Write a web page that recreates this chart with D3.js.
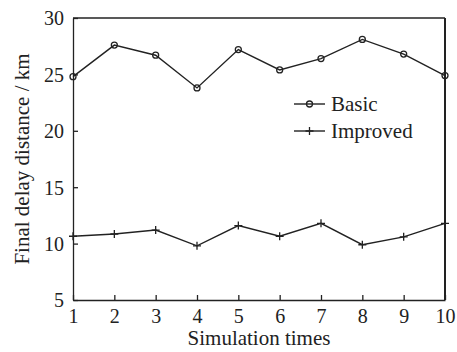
<!DOCTYPE html>
<html>
<head>
<meta charset="utf-8">
<script src="https://cdn.jsdelivr.net/npm/d3@7"></script>
<style>
  body { margin: 0; background: #fff; }
  svg text { font-family: "Liberation Serif", "Times New Roman", Times, "DejaVu Serif", serif; fill: #222; }
</style>
</head>
<body>
<div id="chart"></div>
<script>
const runs = [1, 2, 3, 4, 5, 6, 7, 8, 9, 10];
const basic = [24.8, 27.6, 26.7, 23.8, 27.2, 25.4, 26.4, 28.1, 26.8, 24.9];
const improved = [10.65, 10.85, 11.2, 9.8, 11.6, 10.65, 11.8, 9.9, 10.6, 11.8];
const yTicks = [5, 10, 15, 20, 25, 30];

const width = 457, height = 352;
const margin = { top: 18, right: 12, bottom: 52, left: 73 };
const serif = "'Liberation Serif', 'Times New Roman', Times, 'DejaVu Serif', serif";

const svg = d3.select("#chart").append("svg")
    .attr("width", width)
    .attr("height", height);

const x = d3.scaleLinear().domain([1, 10]).range([margin.left, width - margin.right]);
const y = d3.scaleLinear().domain([5, 30]).range([height - margin.bottom, margin.top]);

// frame
svg.append("line")
    .attr("x1", x(1)).attr("x2", x(10))
    .attr("y1", y(30)).attr("y2", y(30))
    .attr("stroke", "#222").attr("stroke-width", 1.3);
svg.append("line")
    .attr("x1", x(10)).attr("x2", x(10))
    .attr("y1", y(30)).attr("y2", y(5))
    .attr("stroke", "#222").attr("stroke-width", 2);

const xAxis = svg.append("g")
    .attr("transform", `translate(0,${y(5)})`)
    .call(d3.axisBottom(x).tickValues(runs).tickFormat(d3.format("d")).tickSizeInner(-5).tickSizeOuter(0).tickPadding(9));

const yAxis = svg.append("g")
    .attr("transform", `translate(${x(1)},0)`)
    .call(d3.axisLeft(y).tickValues(yTicks).tickSizeInner(-5).tickSizeOuter(0).tickPadding(9));

[xAxis, yAxis].forEach(g => {
    g.attr("font-family", serif);
    g.select(".domain").attr("stroke", "#222").attr("stroke-width", 1.3);
    g.selectAll(".tick line").attr("stroke", "#222").attr("stroke-width", 1.3);
    g.selectAll(".tick text")
        .attr("fill", "#222")
        .style("font-family", serif)
        .style("font-size", "20px");
});
yAxis.selectAll(".tick text").attr("dy", "0.34em");

svg.append("text")
    .attr("x", (x(1) + x(10)) / 2)
    .attr("y", 345)
    .attr("text-anchor", "middle")
    .style("font-family", serif)
    .style("font-size", "21px")
    .text("Simulation times");

svg.append("text")
    .attr("transform", `translate(29,${(y(5) + y(30)) / 2}) rotate(-90)`)
    .attr("text-anchor", "middle")
    .style("font-family", serif)
    .style("font-size", "21px")
    .text("Final delay distance / km");

const line = d3.line()
    .x((d, i) => x(runs[i]))
    .y(d => y(d));

svg.append("path")
    .datum(basic)
    .attr("d", line)
    .attr("fill", "none")
    .attr("stroke", "#222")
    .attr("stroke-width", 1.4);

svg.append("path")
    .datum(improved)
    .attr("d", line)
    .attr("fill", "none")
    .attr("stroke", "#222")
    .attr("stroke-width", 1.4);

function circleMark(g, cx, cy) {
    g.append("circle")
        .attr("cx", cx).attr("cy", cy).attr("r", 3)
        .attr("fill", "none").attr("stroke", "#222").attr("stroke-width", 1.3);
}
function plusMark(g, cx, cy) {
    g.append("path")
        .attr("d", `M${cx - 4},${cy}H${cx + 4}M${cx},${cy - 4}V${cy + 4}`)
        .attr("stroke", "#222").attr("stroke-width", 1.3);
}

const marks = svg.append("g");
basic.forEach((v, i) => circleMark(marks, x(runs[i]), y(v)));
improved.forEach((v, i) => plusMark(marks, x(runs[i]), y(v)));

// legend
const legend = svg.append("g");
const items = [
    { label: "Basic", mark: circleMark, ly: 104 },
    { label: "Improved", mark: plusMark, ly: 131 }
];
items.forEach(d => {
    legend.append("line")
        .attr("x1", 294).attr("x2", 325)
        .attr("y1", d.ly).attr("y2", d.ly)
        .attr("stroke", "#222").attr("stroke-width", 1.4);
    d.mark(legend, 309.5, d.ly);
    legend.append("text")
        .attr("x", 331)
        .attr("y", d.ly)
        .attr("dy", "0.34em")
        .style("font-family", serif)
        .style("font-size", "21px")
        .text(d.label);
});
</script>
</body>
</html>
